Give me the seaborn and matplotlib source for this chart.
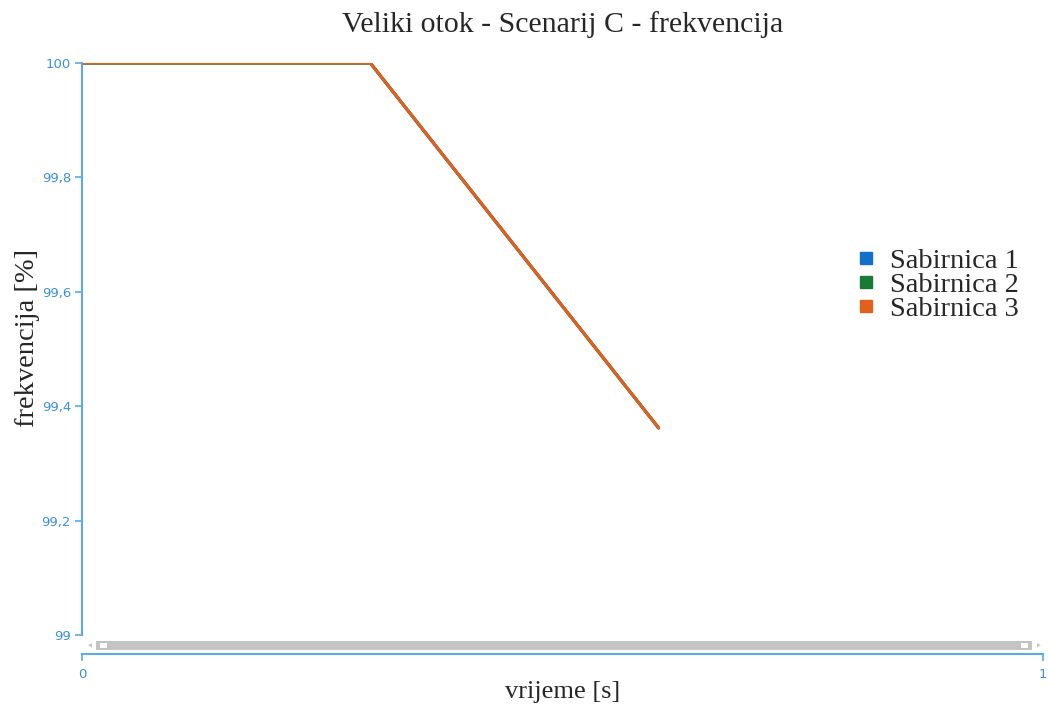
import numpy as np
import pandas as pd
import seaborn as sns
import matplotlib.pyplot as plt
from matplotlib.lines import Line2D
from matplotlib.patches import Rectangle, Polygon

# data
vrijeme = [0.0, 0.3, 0.6]
sabirnica_1 = [100.0, 100.0, 99.362]
sabirnica_2 = [100.0, 100.0, 99.362]
sabirnica_3 = [100.0, 100.0, 99.362]
serije = ['Sabirnica 1', 'Sabirnica 2', 'Sabirnica 3']
boje = ['#1170c8', '#1a7a35', '#e2601c']
y_ticks = [99.0, 99.2, 99.4, 99.6, 99.8, 100.0]
y_labels = ['99', '99,2', '99,4', '99,6', '99,8', '100']

df = pd.DataFrame({
    'vrijeme': vrijeme * 3,
    'frekvencija': sabirnica_1 + sabirnica_2 + sabirnica_3,
    'serija': [s for s in serije for _ in vrijeme],
})

sns.set_style('white')
plt.rcParams['font.family'] = ['DejaVu Sans']

fig = plt.figure(figsize=(10.49, 7.08), dpi=100)
ax = fig.add_axes([0.0782, 0.1031, 0.9161, 0.8079])

# the three buses overlap, orange ends up on top
sns.lineplot(data=df, x='vrijeme', y='frekvencija', hue='serija',
             palette=dict(zip(serije, boje)), linewidth=2.2,
             legend=False, ax=ax)

axis_col = '#5ea8e6'
label_col = '#3d8fdc'
ax.set_xlim(0, 1)
ax.set_ylim(99, 100)
ax.set_yticks(y_ticks)
ax.set_yticklabels(y_labels)
ax.set_xticks([0, 1])
ax.set_xticklabels(['0', '1'])

for s in ['top', 'right']:
    ax.spines[s].set_visible(False)
ax.spines['left'].set_color(axis_col)
ax.spines['bottom'].set_color(axis_col)
ax.spines['left'].set_linewidth(1.5)
ax.spines['bottom'].set_linewidth(1.5)
ax.spines['bottom'].set_position(('outward', 14))
ax.tick_params(axis='y', colors=axis_col, labelcolor=label_col, length=5,
               width=1.2, labelsize=9.5, direction='out', left=True, pad=3)
ax.tick_params(axis='x', colors=axis_col, labelcolor=label_col, length=5,
               width=1.2, labelsize=9.5, direction='out', bottom=True, pad=5)

serif = ['Liberation Serif', 'DejaVu Serif']
ax.set_title('Veliki otok - Scenarij C - frekvencija', family=serif,
             fontsize=21.5, pad=22)
ax.set_xlabel('vrijeme [s]', family=serif, fontsize=19)
ax.set_ylabel('frekvencija [%]', family=serif, fontsize=20.5)
ax.xaxis.set_label_coords(0.5, -0.08)
ax.yaxis.set_label_coords(-0.044, 0.52)

# scrollbar under the plot area
trans = ax.get_xaxis_transform()
sb = Rectangle((0.015, -0.01), 0.974, -0.016, transform=trans,
               facecolor='#c4c4c4', edgecolor='none', clip_on=False)
ax.add_patch(sb)
for x0 in [0.018, 0.976]:
    ax.add_patch(Rectangle((x0, -0.013), 0.008, -0.01, transform=trans,
                           facecolor='white', edgecolor='#bbbbbb', lw=0.6,
                           clip_on=False))
ax.add_patch(Polygon([(0.005, -0.018), (0.011, -0.012), (0.011, -0.024)],
                     transform=trans, facecolor='#c4c4c4', clip_on=False))
ax.add_patch(Polygon([(0.999, -0.018), (0.993, -0.012), (0.993, -0.024)],
                     transform=trans, facecolor='#c4c4c4', clip_on=False))

handles = [Line2D([], [], marker='s', linestyle='none', color=c,
                  markersize=8.5) for c in boje]
ax.legend(handles, serije, loc='center left', bbox_to_anchor=(0.78, 0.612),
          frameon=False, handlelength=0.6, handletextpad=0.55,
          labelspacing=-0.08, prop={'family': serif, 'size': 20.5})

fig.savefig('out.png', dpi=100)
